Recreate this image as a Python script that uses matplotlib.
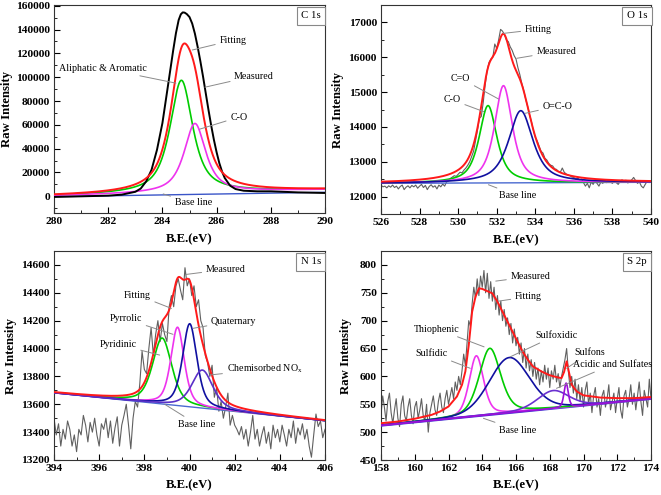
import numpy as np
import matplotlib
matplotlib.use('Agg')
import matplotlib.pyplot as plt
from matplotlib.ticker import MultipleLocator

plt.rcParams['font.family'] = ['Liberation Serif', 'DejaVu Serif']
plt.rcParams['mathtext.fontset'] = 'custom'
plt.rcParams['mathtext.rm'] = 'Liberation Serif'
plt.rcParams['mathtext.it'] = 'Liberation Serif:italic'
plt.rcParams['mathtext.bf'] = 'Liberation Serif:bold'

# ======================= DATA =======================
# ---- C 1s ----
c1s_names = ['Aliphatic & Aromatic', 'C-O']
c1s_center = [284.70, 285.20]
c1s_height = [94500, 58000]
c1s_fwhm = [1.0, 0.95]
c1s_eta = [0.8, 0.8]
c1s_bg = [500, 5600]          # fit background at 280 / 290 eV
c1s_base = [-300, 3400]       # drawn base line at 280 / 290 eV
c1s_meas_x = [280, 281, 282, 282.5, 283, 283.2, 283.4, 283.6, 283.8, 284.0, 284.2,
              284.4, 284.5, 284.6, 284.68, 284.75, 284.82, 284.9, 285.0, 285.1, 285.2,
              285.3, 285.4, 285.5, 285.6, 285.7, 285.8, 285.9, 286.0, 286.1, 286.2,
              286.3, 286.5, 286.7, 287, 287.5, 288, 289, 290]
c1s_meas_y = [-500, 0, 560, 1400, 3800, 6500, 12500, 22300, 39000, 61400, 92000,
              122800, 137000, 148000, 152800, 154400, 154200, 153000, 150500, 145000, 136500,
              125600, 113500, 100500, 86500, 72600, 59500, 47500, 37000, 27900, 20800,
              15400, 8900, 6100, 4700, 4200, 4200, 3300, 2800]

# ---- O 1s ----
o1s_names = ['C-O', 'C=O', 'O=C-O']
o1s_center = [531.55, 532.35, 533.25]
o1s_height = [2220, 2790, 2070]
o1s_fwhm = [1.1, 1.1, 1.5]
o1s_eta = [0.75, 0.75, 0.75]
o1s_bg = [12380, 12410]
o1s_base = [12380, 12410]
o1s_meas = [12330, 12280, 12300, 12250, 12310, 12270, 12330, 12260, 12300, 12220,
            12290, 12330, 12200, 12270, 12310, 12250, 12320, 12280, 12330, 12240,
            12300, 12350, 12260, 12320, 12200, 12290, 12340, 12270, 12310, 12220,
            12330, 12280, 12360, 12300, 12420, 12450, 12520, 12560, 12600, 12580,
            12640, 12700, 12680, 12760, 12820, 12900, 13000, 13150, 13300, 13600,
            13900, 14250, 14300, 14700, 15200, 15600, 15850, 15950, 16000, 16380,
            16250, 16500, 16800, 16750, 16650, 16500, 16450, 16300, 16200, 16050,
            15950, 15700, 15500, 15250, 15050, 14800, 14600, 14350, 14150, 13900,
            13700, 13600, 13450, 13300, 13250, 13100, 13050, 12950, 12900, 12880,
            12800, 12780, 12720, 12700, 12820, 12700, 12650, 12620, 12600, 12560,
            12550, 12500, 12530, 12480, 12500, 12400, 12300, 12380, 12250, 12420,
            12350, 12450, 12380, 12300, 12420, 12380, 12460, 12400, 12480, 12420,
            12380, 12460, 12400, 12350, 12440, 12480, 12420, 12470, 12390, 12440,
            12480, 12550, 12460, 12380, 12420, 12300, 12250, 12350, 12440, 12400,
            12440]

# ---- N 1s ----
n1s_names = ['Pyridinic', 'Pyrrolic', 'Quaternary', 'Chemisorbed NOx']
n1s_center = [398.79, 399.47, 400.01, 400.57]
n1s_height = [473, 562, 596, 273]
n1s_fwhm = [1.0, 0.7, 0.75, 1.1]
n1s_eta = [0.5, 0.5, 0.5, 0.5]
n1s_bg = [13682, 13482]
n1s_base = [13682, 13482]
n1s_meas = [13500, 13380, 13460, 13300, 13420, 13350, 13480, 13420, 13300, 13380,
            13260, 13420, 13380, 13520, 13450, 13330, 13470, 13400, 13500, 13380,
            13300, 13460, 13420, 13500, 13360, 13480, 13320, 13430, 13510, 13300,
            13450, 13520, 13600, 13450, 13280, 13500, 13620, 13580, 13750, 13980,
            13850, 13820, 14000, 14150, 13950, 14100, 14200, 14050, 14180, 14100,
            14050, 14300, 14380, 14300, 14450, 14500, 14420, 14350, 14580, 14450,
            14500, 14380, 14450, 14300, 14350, 14200, 14150, 13950, 13900, 13800,
            13880, 13650, 13720, 13550, 13620, 13500, 13580, 13680, 13450, 13520,
            13450, 13420, 13380, 13440, 13350, 13420, 13300, 13400, 13520, 13350,
            13420, 13300, 13380, 13440, 13320, 13400, 13280, 13450, 13360, 13420,
            13330, 13450, 13380, 13300, 13420, 13360, 13480, 13320, 13430, 13380,
            13460, 13350, 13420, 13300, 13220, 13380, 13530, 13440, 13480, 13360,
            13420]

# ---- S 2p ----
s2p_names = ['Sulfidic', 'Thiophenic', 'Sulfoxidic', 'Acidic and Sulfates', 'Sulfons']
s2p_center = [163.65, 164.45, 165.60, 168.20, 168.97]
s2p_height = [108, 119, 99, 32, 43]
s2p_fwhm = [1.0, 1.5, 2.8, 2.2, 0.3]
s2p_eta = [0.4, 0.4, 0.2, 0.3, 0.4]
s2p_base = [512, 560]
s2p_fit_x = [158, 159, 160, 161, 161.5, 162, 162.5, 162.8, 163.0, 163.2, 163.4, 163.6,
             163.8, 164.0, 164.3, 164.6, 164.9, 165.2, 165.5, 165.8, 166.1, 166.4,
             166.7, 167.0, 167.5, 168.0, 168.5, 168.7, 168.85, 169.0, 169.15, 169.3,
             169.6, 170, 171, 172, 173, 174]
s2p_fit_y = [516, 519, 524, 531, 537, 546, 564, 585, 609, 656, 716, 743,
             758, 757, 753, 749, 734, 716, 698, 680, 662, 644,
             630, 618, 609, 602, 598, 597, 608, 627, 606, 585,
             573, 566, 562, 561, 561, 563]
s2p_meas = [530, 565, 545, 520, 555, 570, 535, 515, 540, 560,
            525, 510, 550, 565, 530, 520, 545, 560, 530, 515,
            545, 555, 525, 540, 560, 530, 520, 550, 500, 535,
            550, 565, 540, 530, 555, 570, 545, 535, 560, 575,
            550, 565, 580, 560, 590, 575, 600, 585, 610, 640,
            620, 660, 700, 690, 730, 760, 740, 775, 745, 780,
            760, 790, 750, 785, 740, 770, 735, 760, 720, 745,
            710, 735, 700, 720, 690, 705, 675, 695, 660, 685,
            655, 670, 640, 660, 625, 650, 615, 640, 610, 630,
            600, 625, 595, 615, 585, 610, 590, 620, 595, 615,
            580, 610, 595, 620, 590, 605, 580, 600, 615, 630,
            650, 610, 580, 600, 570, 595, 560, 585, 555, 580,
            545, 575, 590, 550, 570, 535, 565, 580, 545, 560,
            530, 565, 575, 545, 560, 585, 540, 555, 570, 535,
            560, 580, 540, 525, 565, 575, 545, 560, 585, 550,
            570, 540, 565, 590, 555, 530, 575, 560, 545, 595,
            560]

# ======================= HELPERS =======================
def pvoigt(x, c, h, w, eta):
    lor = 1.0 / (1.0 + ((x - c) / (w / 2.0)) ** 2)
    gau = np.exp(-4.0 * np.log(2.0) * ((x - c) / w) ** 2)
    return h * (eta * lor + (1.0 - eta) * gau)

def line(x, ends, xr):
    return ends[0] + (ends[1] - ends[0]) * (x - xr[0]) / (xr[1] - xr[0])

TICK_FS = 8.2
LAB_FS = 9.2
NOTE_FS = 7.2
GRAY = '#8a8a8a'

def style_axes(ax, xr, yr, xmaj, ymaj, xlabel_y, ylabel_x):
    ax.set_xlim(*xr)
    ax.set_ylim(*yr)
    ax.xaxis.set_major_locator(MultipleLocator(xmaj))
    ax.xaxis.set_minor_locator(MultipleLocator(xmaj / 2))
    ax.yaxis.set_major_locator(MultipleLocator(ymaj))
    ax.yaxis.set_minor_locator(MultipleLocator(ymaj / 2))
    ax.tick_params(which='both', direction='in', top=False, right=False)
    ax.tick_params(which='major', length=4, width=0.8, labelsize=TICK_FS, pad=3)
    ax.tick_params(which='minor', length=2, width=0.6)
    for lab in ax.get_xticklabels() + ax.get_yticklabels():
        lab.set_fontweight('bold')
    for sp in ax.spines.values():
        sp.set_linewidth(0.8)
        sp.set_color('#333333')
    ax.set_xlabel('B.E.(eV)', fontsize=LAB_FS, fontweight='bold')
    ax.set_ylabel('Raw Intensity', fontsize=LAB_FS, fontweight='bold')
    ax.xaxis.set_label_coords(0.5, xlabel_y)
    ax.yaxis.set_label_coords(ylabel_x, 0.5)

def tag(ax, text):
    ax.text(0.948, 0.948, text, transform=ax.transAxes, ha='center', va='center',
            fontsize=7.8, zorder=10,
            bbox=dict(boxstyle='square,pad=0.4', fc='white', ec='#888888', lw=0.8))

def note(ax, text, xy, xytext, ha='left'):
    ax.annotate(text, xy=xy, xytext=xytext, fontsize=NOTE_FS, ha=ha, va='center',
                zorder=9,
                arrowprops=dict(arrowstyle='-', color=GRAY, lw=0.7,
                                shrinkA=1, shrinkB=0))

fig = plt.figure(figsize=(6.61, 4.95), dpi=100)
W, H = 661.0, 495.0
def rect(l, r, t, b):
    return [l / W, 1 - b / H, (r - l) / W, (b - t) / H]

ax1 = fig.add_axes(rect(54, 325, 5, 213))
ax2 = fig.add_axes(rect(381, 651, 5, 214))
ax3 = fig.add_axes(rect(54, 325, 251, 460))
ax4 = fig.add_axes(rect(381, 651, 251, 460))

# ======================= C 1s =======================
xr = (280, 290)
xx = np.linspace(xr[0], xr[1], 1501)
bg = line(xx, c1s_bg, xr)
ax1.plot(xr, c1s_base, color='#3a55c8', lw=1.0, zorder=2)
c1s_cols = ['#00cc00', '#ee33ee']
total = bg.copy()
for c, h, w, e, col in zip(c1s_center, c1s_height, c1s_fwhm, c1s_eta, c1s_cols):
    comp = pvoigt(xx, c, h, w, e)
    total += comp
    ax1.plot(xx, bg + comp, color=col, lw=1.2, zorder=3)
ax1.plot(c1s_meas_x, c1s_meas_y, color='black', lw=1.4, zorder=4)
ax1.plot(xx, total, color='#ff1a1a', lw=1.4, zorder=5)
style_axes(ax1, xr, (-14000, 160600), 2, 20000, -0.096, -0.151)
tag(ax1, 'C 1s')
note(ax1, 'Fitting', (285.1, 122800), (286.1, 131000))
note(ax1, 'Measured', (285.57, 91600), (286.65, 101000))
note(ax1, 'Aliphatic & Aromatic', (284.5, 95000), (280.18, 107500))
note(ax1, 'C-O', (285.38, 56400), (286.5, 66500))
note(ax1, 'Base line', (284.03, 2000), (284.45, -5600))

# ======================= O 1s =======================
xr = (526, 540)
xx = np.linspace(xr[0], xr[1], 1501)
bg = line(xx, o1s_bg, xr)
ax2.plot(np.linspace(xr[0], xr[1], len(o1s_meas)), o1s_meas, color='#606060', lw=0.8, zorder=2)
ax2.plot(xr, o1s_base, color='#4a6ad0', lw=1.0, zorder=3)
o1s_cols = ['#00cc00', '#ee33ee', '#1010a0']
total = bg.copy()
for c, h, w, e, col in zip(o1s_center, o1s_height, o1s_fwhm, o1s_eta, o1s_cols):
    comp = pvoigt(xx, c, h, w, e)
    total += comp
    ax2.plot(xx, bg + comp, color=col, lw=1.2, zorder=4)
ax2.plot(xx, total, color='#ff1a1a', lw=1.4, zorder=5)
style_axes(ax2, xr, (11500, 17500), 2, 1000, -0.096, -0.137)
tag(ax2, 'O 1s')
note(ax2, 'Fitting', (532.35, 16685), (533.45, 16800))
note(ax2, 'Measured', (533.04, 15970), (534.05, 16160))
note(ax2, 'C=O', (532.1, 14800), (529.63, 15395))
note(ax2, 'C-O', (531.32, 14440), (529.25, 14775))
note(ax2, 'O=C-O', (533.47, 14390), (534.37, 14600))
note(ax2, 'Base line', (531.57, 12340), (532.1, 12024))

# ======================= N 1s =======================
xr = (394, 406)
xx = np.linspace(xr[0], xr[1], 1501)
bg = line(xx, n1s_bg, xr)
ax3.plot(np.linspace(xr[0], xr[1], len(n1s_meas)), n1s_meas, color='#606060', lw=0.8, zorder=2)
ax3.plot(xr, n1s_base, color='#4a6ad0', lw=1.0, zorder=3)
n1s_cols = ['#00cc00', '#ee33ee', '#1010a0', '#5a30c8']
total = bg.copy()
for c, h, w, e, col in zip(n1s_center, n1s_height, n1s_fwhm, n1s_eta, n1s_cols):
    comp = pvoigt(xx, c, h, w, e)
    total += comp
    ax3.plot(xx, bg + comp, color=col, lw=1.2, zorder=4)
ax3.plot(xx, total, color='#ff1a1a', lw=1.4, zorder=5)
style_axes(ax3, xr, (13200, 14700), 2, 200, -0.091, -0.137)
tag(ax3, 'N 1s')
note(ax3, 'Measured', (399.86, 14532), (400.72, 14568))
note(ax3, 'Fitting', (399.2, 14288), (397.09, 14384))
note(ax3, 'Pyrrolic', (399.27, 14102), (396.47, 14212))
note(ax3, 'Quaternary', (400.16, 14145), (400.95, 14197))
note(ax3, 'Pyridinic', (398.68, 13953), (396.02, 14030))
note(ax3, r'Chemisorbed NO$_\mathrm{x}$', (400.9, 13810), (401.64, 13853))
note(ax3, 'Base line', (398.9, 13600), (399.5, 13456))

# ======================= S 2p =======================
xr = (158, 174)
xx = np.linspace(xr[0], xr[1], 1601)
bg = line(xx, s2p_base, xr)
ax4.plot(np.linspace(xr[0], xr[1], len(s2p_meas)), s2p_meas, color='#606060', lw=0.8, zorder=2)
ax4.plot(xr, s2p_base, color='#3a3ad0', lw=1.8, zorder=3)
s2p_cols = ['#ee33ee', '#00cc00', '#1010a0', '#6a30d0', '#9a10d8']
for c, h, w, e, col in zip(s2p_center, s2p_height, s2p_fwhm, s2p_eta, s2p_cols):
    comp = pvoigt(xx, c, h, w, e)
    ax4.plot(xx, bg + comp, color=col, lw=1.2, zorder=4)
ax4.plot(s2p_fit_x, s2p_fit_y, color='#ff1a1a', lw=1.4, zorder=5)
style_axes(ax4, xr, (450, 825), 2, 50, -0.091, -0.107)
tag(ax4, 'S 2p')
note(ax4, 'Measured', (164.8, 771), (165.67, 779))
note(ax4, 'Fitting', (164.96, 735), (165.93, 743))
note(ax4, 'Thiophenic', (164.11, 653), (159.97, 685))
note(ax4, 'Sulfoxidic', (165.65, 635), (167.15, 674))
note(ax4, 'Sulfidic', (163.29, 614.5), (160.03, 641.5))
note(ax4, 'Sulfons', (169.0, 614.5), (169.48, 643))
note(ax4, 'Acidic and Sulfates', (168.4, 578.6), (169.38, 621.7))
note(ax4, 'Base line', (164.07, 524.8), (164.98, 503.8))

fig.savefig('out.png', dpi=100)
